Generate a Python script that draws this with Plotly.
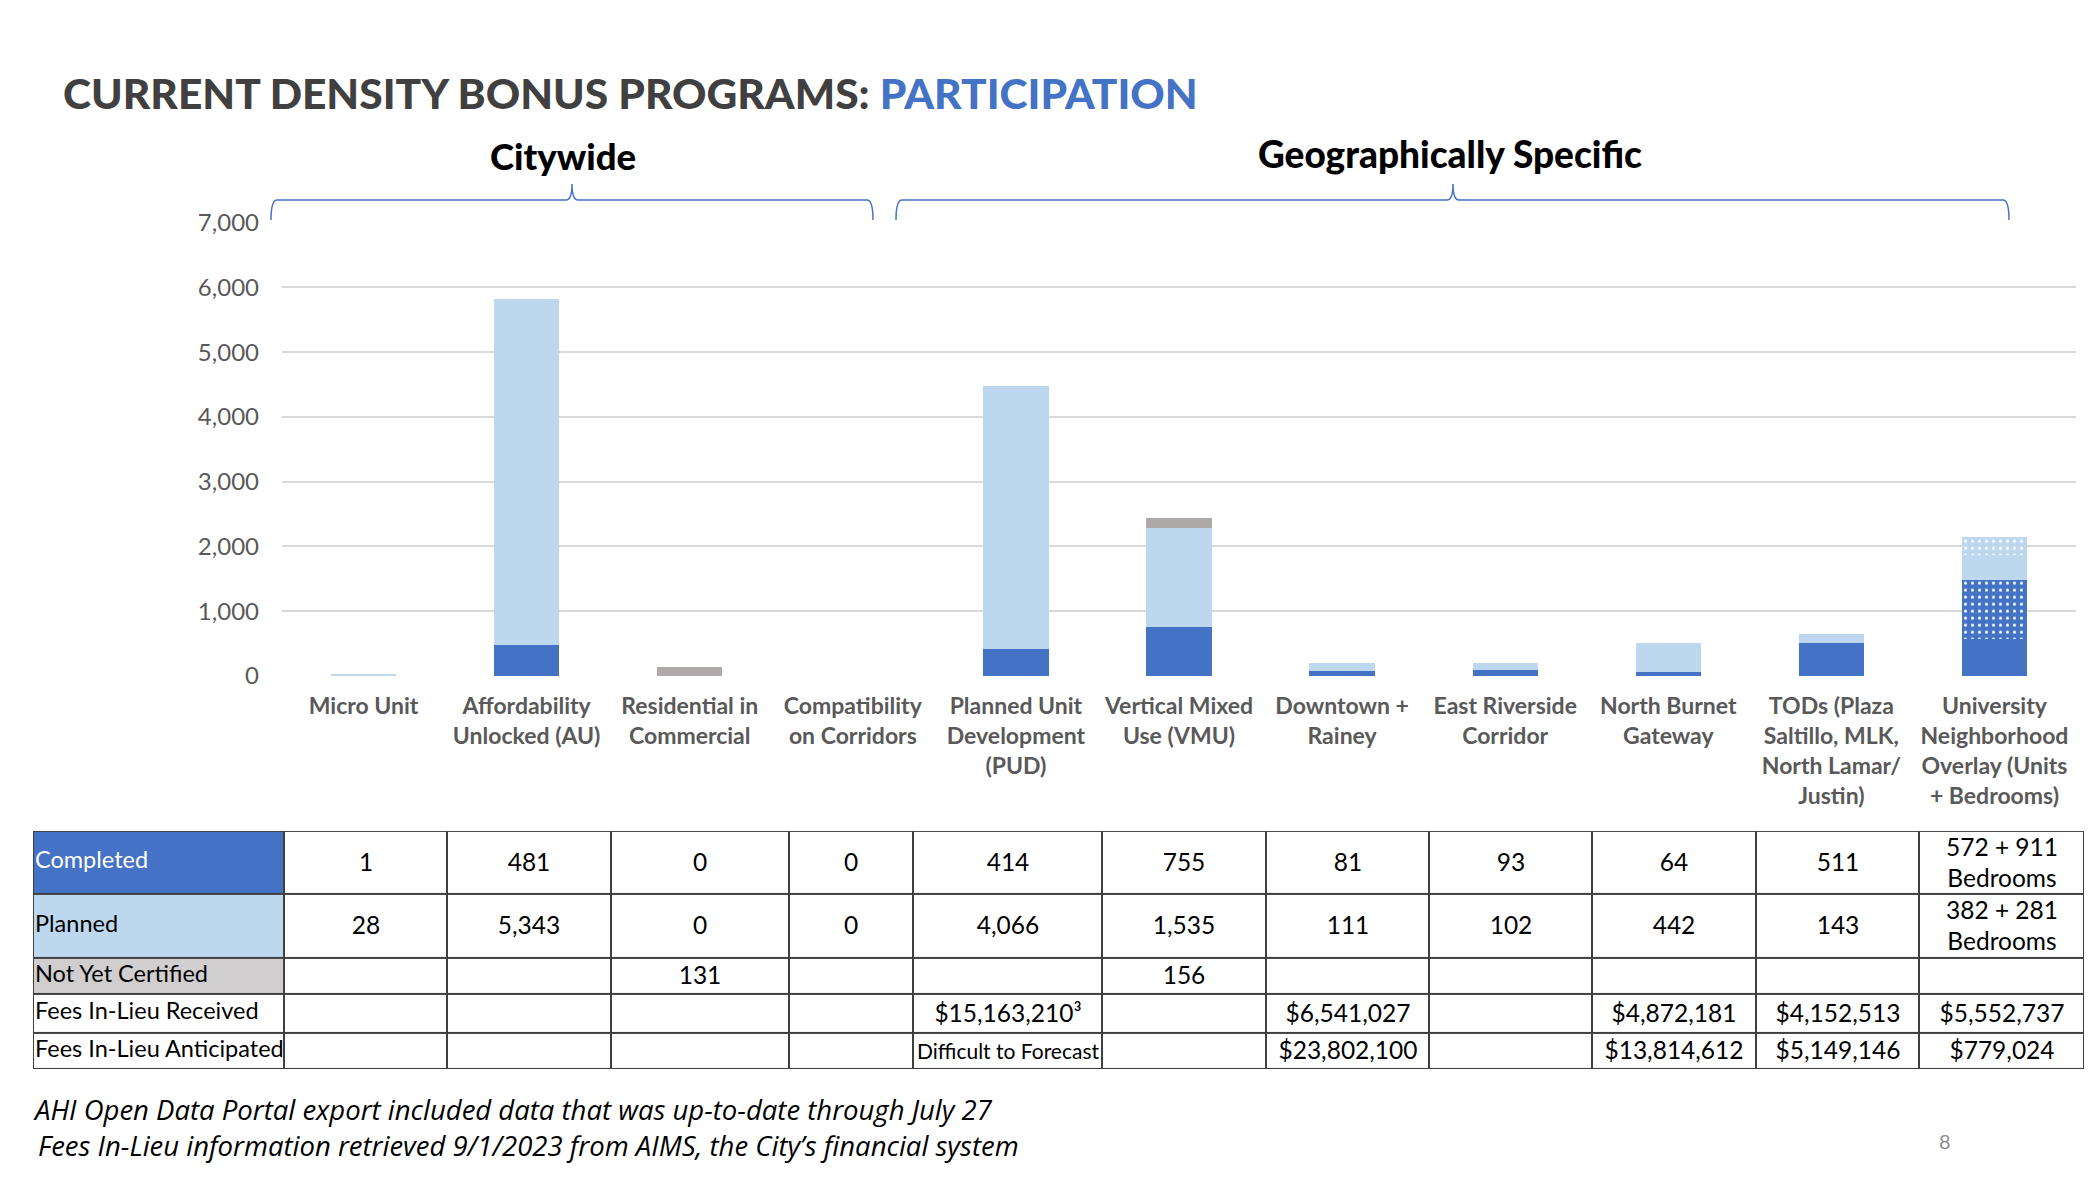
import plotly.graph_objects as go

# ---------------- data ----------------
CATEGORIES = ["Micro Unit", "Affordability Unlocked (AU)", "Residential in Commercial",
              "Compatibility on Corridors", "Planned Unit Development (PUD)",
              "Vertical Mixed Use (VMU)", "Downtown + Rainey", "East Riverside Corridor",
              "North Burnet Gateway", "TODs (Plaza Saltillo, MLK, North Lamar/ Justin)",
              "University Neighborhood Overlay (Units + Bedrooms)"]
TICK_LABELS = ["Micro Unit", "Affordability<br>Unlocked (AU)", "Residential in<br>Commercial",
               "Compatibility<br>on Corridors", "Planned Unit<br>Development<br>(PUD)",
               "Vertical Mixed<br>Use (VMU)", "Downtown +<br>Rainey", "East Riverside<br>Corridor",
               "North Burnet<br>Gateway", "TODs (Plaza<br>Saltillo, MLK,<br>North Lamar/<br>Justin)",
               "University<br>Neighborhood<br>Overlay (Units<br>+ Bedrooms)"]
COMPLETED = [1, 481, 0, 0, 414, 755, 81, 93, 64, 511, 572]
COMPLETED_BEDROOMS = [None, None, None, None, None, None, None, None, None, None, 911]
PLANNED = [28, 5343, 0, 0, 4066, 1535, 111, 102, 442, 143, 382]
PLANNED_BEDROOMS = [None, None, None, None, None, None, None, None, None, None, 281]
NOT_YET_CERTIFIED = [None, None, 131, None, None, 156, None, None, None, None, None]
FEES_RECEIVED = ["", "", "", "", "$15,163,210³", "", "$6,541,027", "", "$4,872,181",
                 "$4,152,513", "$5,552,737"]
FEES_ANTICIPATED = ["", "", "", "", "Difficult to Forecast", "", "$23,802,100", "",
                    "$13,814,612", "$5,149,146", "$779,024"]
ROW_LABELS = ["Completed", "Planned", "Not Yet Certified", "Fees In-Lieu Received",
              "Fees In-Lieu Anticipated"]
Y_TICKS = [0, 1000, 2000, 3000, 4000, 5000, 6000, 7000]

TITLE_DARK = "CURRENT DENSITY BONUS PROGRAMS: "
TITLE_BLUE = "PARTICIPATION"
GROUP_LABELS = ["Citywide", "Geographically Specific"]
FOOTNOTES = ["AHI Open Data Portal export included data that was up-to-date through July 27",
             "Fees In-Lieu information retrieved 9/1/2023 from AIMS, the City’s financial system"]
PAGE_NUMBER = "8"

# ---------------- style / layout constants ----------------
OFF_X = 8               # page body margin (horizontal)
FW, FH = 2084, 1164     # figure size so the page does not overflow the window
TOP_Y, SPAN_Y = 24.1, 1135.0   # measured on-screen top / height of the rendered figure
DARK_BLUE = "#4472C4"
LIGHT_BLUE = "#BDD7EE"
GRAY_BAR = "#AEAAAA"
GRAY_CELL = "#D0CECE"
FONT = "Lato, 'Open Sans', sans-serif"
ITALIC_FONT = "'Open Sans', Lato, sans-serif"
COL_WIDTHS = [251, 163, 164, 178, 124, 189, 164, 163, 163, 164, 163, 165]
ROW_HEIGHTS = [63, 64, 36, 39, 36]
TABLE_LEFT, TABLE_TOP = 33, 831


def px(x):
    """screen x pixel -> paper fraction"""
    return (x - OFF_X) / FW


def py(y):
    """screen y pixel -> paper fraction"""
    return 1 - (y - TOP_Y) / SPAN_Y


def fmt(v):
    return "" if v is None else f"{v:,}"


# ---------------- figure ----------------
fig = go.Figure()

dot = dict(shape=".", fgcolor="white", size=7, solidity=0.15, fillmode="replace")
fig.add_trace(go.Bar(x=CATEGORIES, y=COMPLETED, name="Completed",
                     marker=dict(color=DARK_BLUE, line=dict(width=0))))
fig.add_trace(go.Bar(x=CATEGORIES, y=COMPLETED_BEDROOMS, name="Completed bedrooms",
                     marker=dict(color=DARK_BLUE, line=dict(width=0),
                                 pattern=dict(dot, bgcolor=DARK_BLUE))))
fig.add_trace(go.Bar(x=CATEGORIES, y=PLANNED, name="Planned",
                     marker=dict(color=LIGHT_BLUE, line=dict(width=0))))
fig.add_trace(go.Bar(x=CATEGORIES, y=PLANNED_BEDROOMS, name="Planned bedrooms",
                     marker=dict(color=LIGHT_BLUE, line=dict(width=0),
                                 pattern=dict(dot, bgcolor=LIGHT_BLUE))))
fig.add_trace(go.Bar(x=CATEGORIES, y=NOT_YET_CERTIFIED, name="Not Yet Certified",
                     marker=dict(color=GRAY_BAR, line=dict(width=0))))

# ---------------- table (heatmap on its own axes) ----------------
x_edges = [0]
for w in COL_WIDTHS:
    x_edges.append(x_edges[-1] + w)
y_edges = [0]
for h in ROW_HEIGHTS:
    y_edges.append(y_edges[-1] + h)


def uno(c, b):
    return f"{c:,} + {b:,}<br>Bedrooms"


row_completed = [fmt(v) for v in COMPLETED[:-1]] + [uno(COMPLETED[-1], COMPLETED_BEDROOMS[-1])]
row_planned = [fmt(v) for v in PLANNED[:-1]] + [uno(PLANNED[-1], PLANNED_BEDROOMS[-1])]
row_nyc = [fmt(v) for v in NOT_YET_CERTIFIED]
row_fr = FEES_RECEIVED
row_fa = [('<span style="font-size:21px">' + t + "</span>") if t.startswith("Difficult") else t
          for t in FEES_ANTICIPATED]
table_text = [[""] + r for r in [row_completed, row_planned, row_nyc, row_fr, row_fa]]
label_fill = [1, 2, 3, 0, 0]
z = [[label_fill[i]] + [0] * len(CATEGORIES) for i in range(len(ROW_LABELS))]

fig.add_trace(go.Heatmap(
    x=x_edges, y=y_edges, z=z, text=table_text, texttemplate="%{text}",
    textfont=dict(family=FONT, size=24.5, color="black"),
    colorscale=[[0, "white"], [1 / 3, DARK_BLUE], [2 / 3, LIGHT_BLUE], [1, GRAY_CELL]],
    zmin=0, zmax=3, showscale=False, xgap=2, ygap=2, hoverinfo="skip",
    xaxis="x2", yaxis="y2"))

row_centers = [(y_edges[i] + y_edges[i + 1]) / 2 for i in range(len(ROW_LABELS))]
fig.add_trace(go.Scatter(
    x=[2] * len(ROW_LABELS), y=row_centers, text=ROW_LABELS, mode="text",
    textposition="middle right",
    textfont=dict(family=FONT, size=23.5,
                  color=["white", "black", "black", "black", "black"]),
    hoverinfo="skip", xaxis="x2", yaxis="y2", showlegend=False))

shapes = [dict(type="rect", xref="x2", yref="y2", x0=-1, x1=x_edges[-1] + 1,
               y0=-1, y1=y_edges[-1] + 1, fillcolor="#404040",
               line=dict(width=0), layer="below")]


def bracket(x0, x1, xc, ytop=200, ybot=220, ytip=184, r=6):
    p = (f"M {px(x0)},{py(ybot)} Q {px(x0)},{py(ytop)} {px(x0 + r)},{py(ytop)} "
         f"L {px(xc - r)},{py(ytop)} Q {px(xc)},{py(ytop)} {px(xc)},{py(ytip)} "
         f"Q {px(xc)},{py(ytop)} {px(xc + r)},{py(ytop)} "
         f"L {px(x1 - r)},{py(ytop)} Q {px(x1)},{py(ytop)} {px(x1)},{py(ybot)}")
    return dict(type="path", xref="paper", yref="paper", path=p,
                line=dict(color=DARK_BLUE, width=1.5))


shapes.append(bracket(271, 873, 572))
shapes.append(bracket(896, 2009, 1453))

annotations = [
    dict(x=px(61), y=py(93), xref="paper", yref="paper", xanchor="left", yanchor="middle",
         showarrow=False,
         text=f"{TITLE_DARK}<span style='color:{DARK_BLUE}'>{TITLE_BLUE}</span>",
         font=dict(family=FONT, size=42.5, color="#404040", weight=900)),
    dict(x=px(563), y=py(156), xref="paper", yref="paper", xanchor="center", yanchor="middle",
         showarrow=False, text=GROUP_LABELS[0],
         font=dict(family=FONT, size=36.5, color="black", weight=900)),
    dict(x=px(1450), y=py(154), xref="paper", yref="paper", xanchor="center", yanchor="middle",
         showarrow=False, text=GROUP_LABELS[1],
         font=dict(family=FONT, size=37, color="black", weight=900)),
    dict(x=px(31), y=py(1110), xref="paper", yref="paper", xanchor="left", yanchor="middle",
         showarrow=False, text=f"<i>{FOOTNOTES[0]}</i>",
         font=dict(family=ITALIC_FONT, size=27.5, color="black")),
    dict(x=px(36), y=py(1146), xref="paper", yref="paper", xanchor="left", yanchor="middle",
         showarrow=False, text=f"<i>{FOOTNOTES[1]}</i>",
         font=dict(family=ITALIC_FONT, size=27.5, color="black")),
    dict(x=px(1945), y=py(1141), xref="paper", yref="paper", xanchor="center", yanchor="middle",
         showarrow=False, text=PAGE_NUMBER,
         font=dict(family=FONT, size=20, color="#8C8C8C")),
]

fig.update_layout(
    width=FW, height=FH, margin=dict(l=0, r=0, t=0, b=0),
    paper_bgcolor="white", plot_bgcolor="white",
    barmode="stack", bargap=0.6, showlegend=False,
    font=dict(family=FONT),
    xaxis=dict(domain=[px(282), px(2076)], type="category",
               tickmode="array", tickvals=CATEGORIES,
               ticktext=[f"<b>{t}</b>" for t in TICK_LABELS],
               tickfont=dict(family=FONT, size=23, color="#595959"),
               showgrid=False, zeroline=False, showline=False, ticks="",
               ticklabelstandoff=14, anchor="y"),
    yaxis=dict(domain=[py(676), py(222.7)], range=[0, 7000],
               tickmode="array", tickvals=Y_TICKS, tickformat=",",
               tickfont=dict(family=FONT, size=24, color="#595959"),
               showgrid=True, gridcolor="#D9D9D9", gridwidth=2,
               zeroline=False, showline=False, ticks="", ticklabelstandoff=22,
               anchor="x"),
    xaxis2=dict(domain=[px(TABLE_LEFT), px(TABLE_LEFT + x_edges[-1])],
                range=[0, x_edges[-1]], visible=False, anchor="y2"),
    yaxis2=dict(domain=[py(TABLE_TOP + y_edges[-1]), py(TABLE_TOP)],
                range=[y_edges[-1], 0], visible=False, anchor="x2"),
    shapes=shapes, annotations=annotations,
)

fig.write_html("out.html")
